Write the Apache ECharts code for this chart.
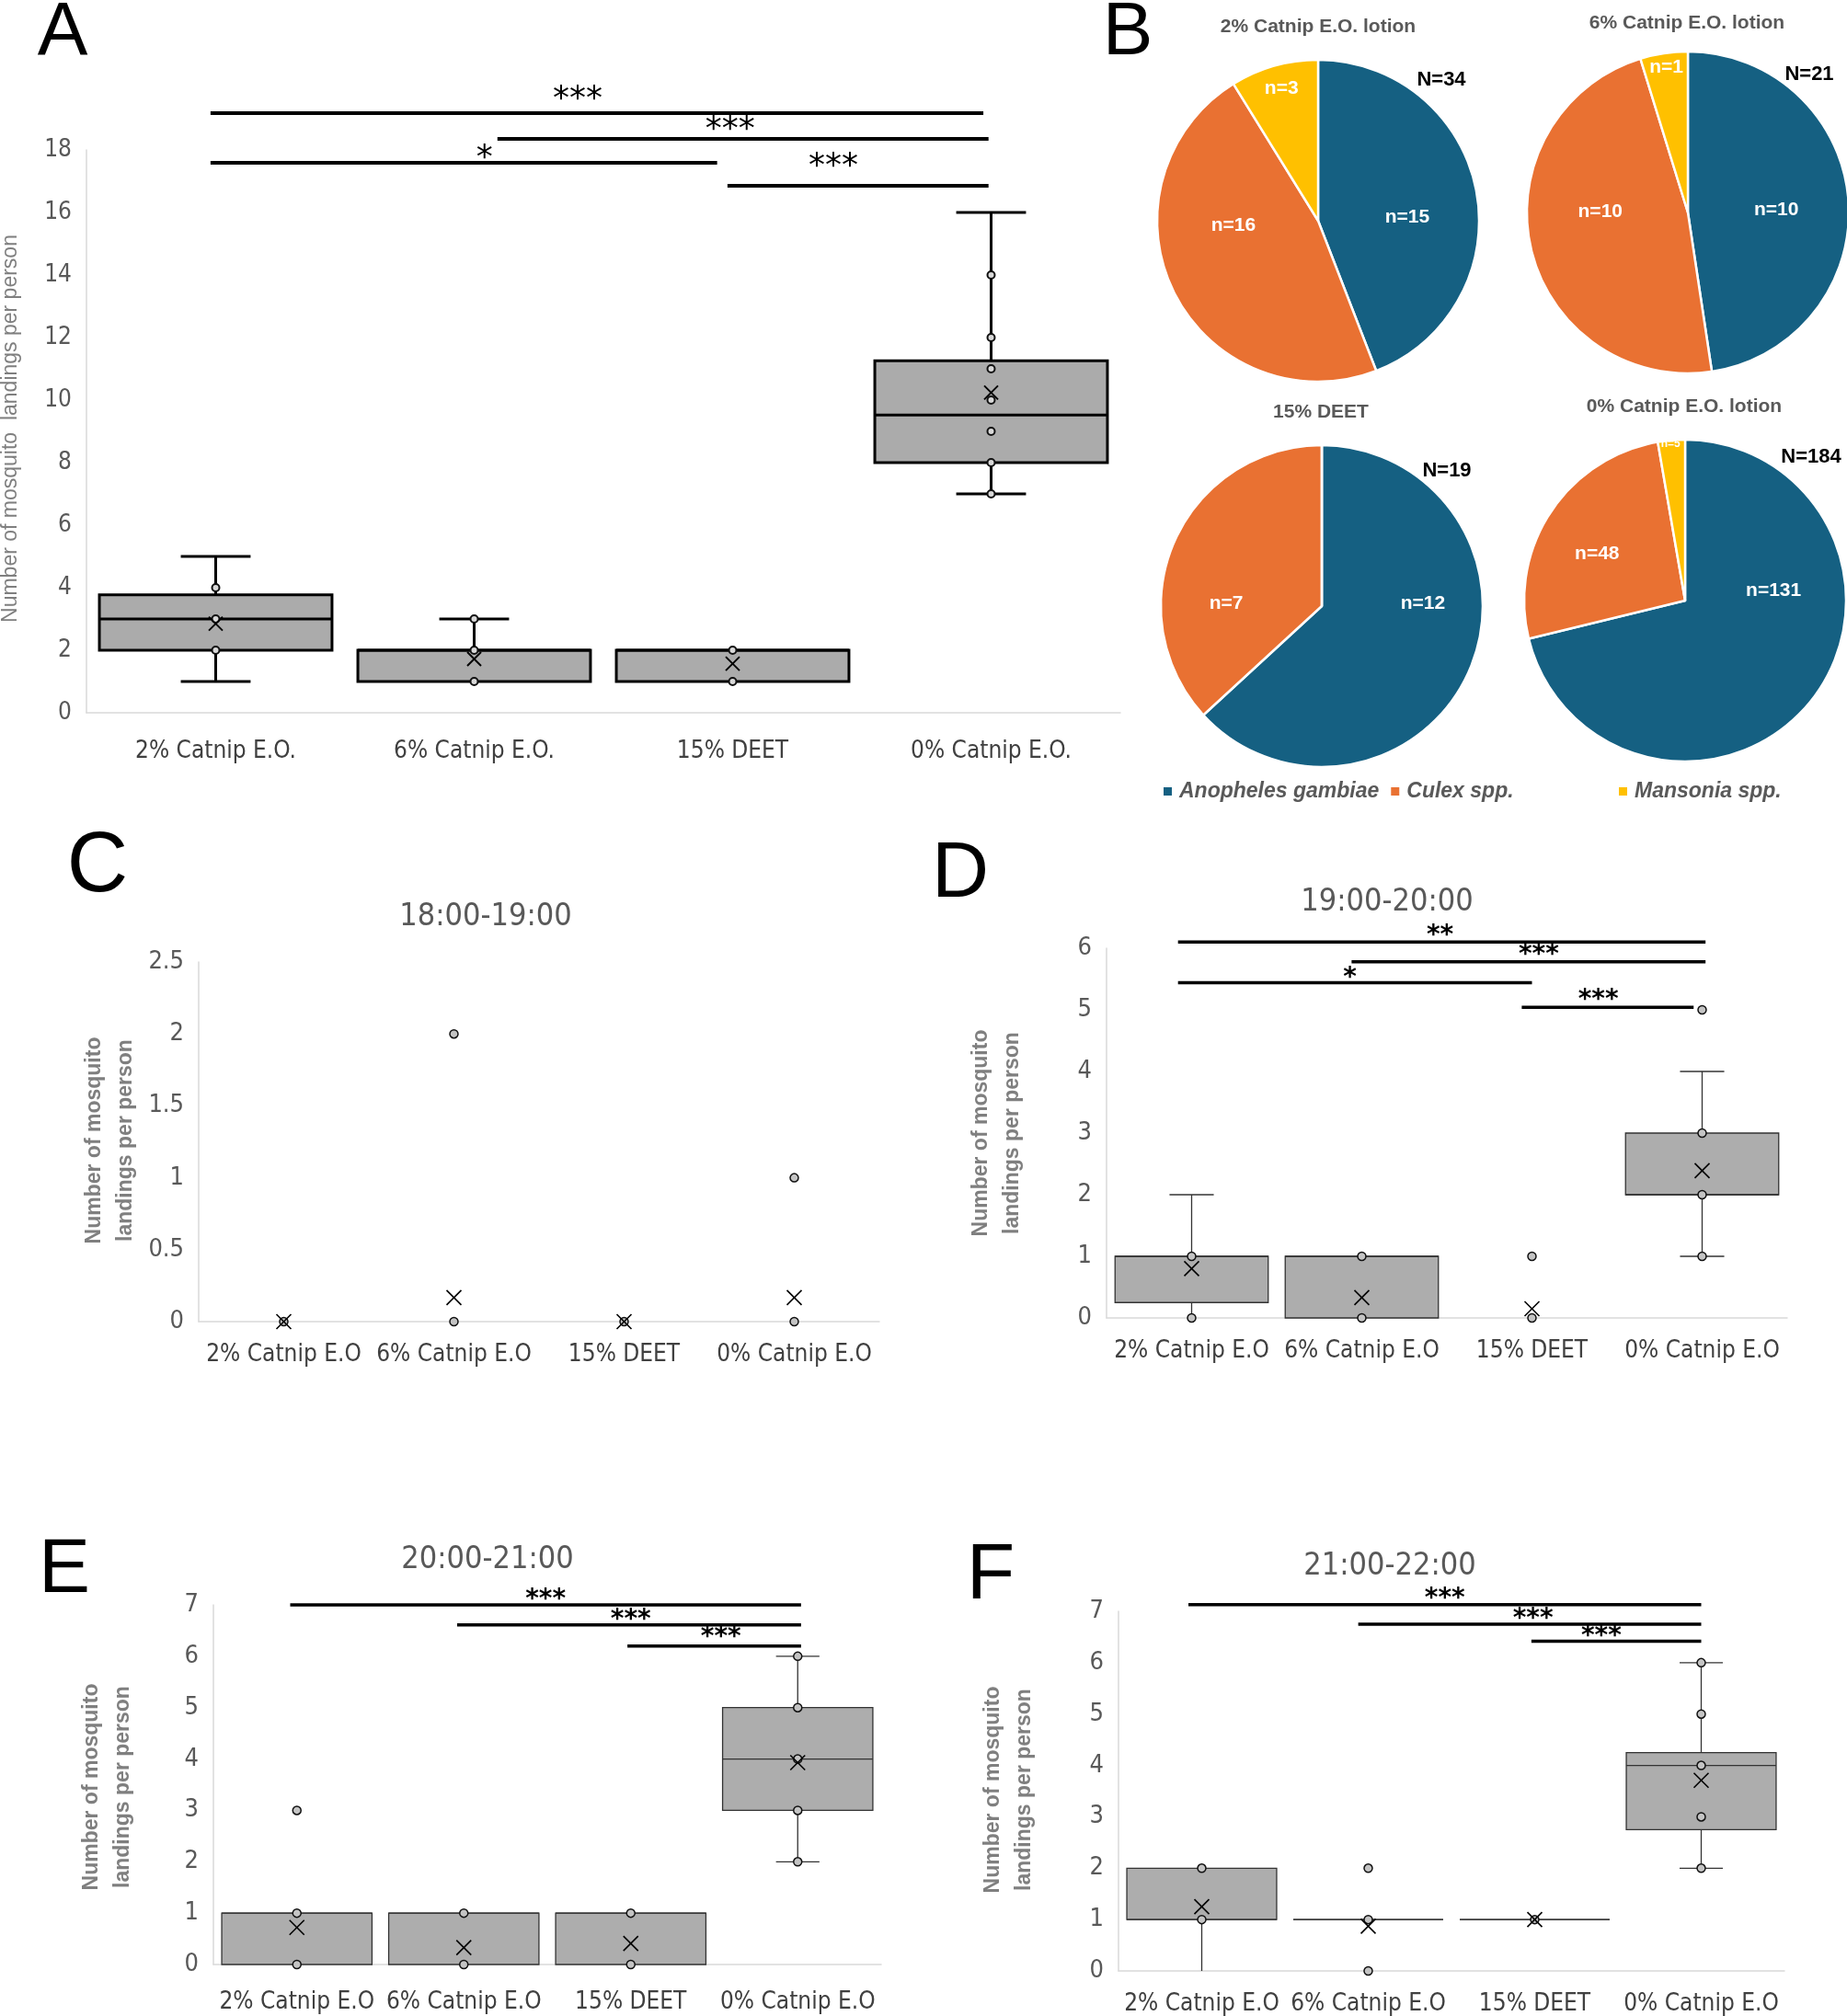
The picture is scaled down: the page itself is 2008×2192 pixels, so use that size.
<!DOCTYPE html>
<html>
<head>
<meta charset="utf-8">
<script src="https://cdn.jsdelivr.net/npm/echarts@6.0.0/dist/echarts.min.js"></script>
<style>
  html, body { margin: 0; padding: 0; background: #fff; }
  #chart { width: 2008px; height: 2192px; }
</style>
</head>
<body>
<div id="chart"></div>
<script>
// ---- data ----
const catsA = ['2% Catnip E.O.', '6% Catnip E.O.', '15% DEET', '0% Catnip E.O.'];
const catsHour = ['2% Catnip E.O', '6% Catnip E.O', '15% DEET', '0% Catnip E.O'];

// box stats per group: [lower whisker, Q1, median, Q3, upper whisker]
const boxA = [[1, 2, 3, 3.77, 5], [1, 1, 2, 2, 3], [1, 1, 2, 2, 2], [7, 8, 9.52, 11.26, 16]];
const meanA = [2.85, 1.72, 1.57, 10.24];
const pointsA = [[2, 3, 4], [1, 2, 3], [1, 2], [7, 8, 9, 10, 11, 12, 14]];
const sigSpanA = [[-0.02, 2.97, 19.18], [1.09, 2.99, 18.35], [-0.02, 1.94, 17.59], [1.98, 2.99, 16.85]];
const sigMarkA = ['***', '***', '*', '***'];
const sigMarkAtA = [[1.4, 19.82], [1.99, 18.85], [1.04, 17.94], [2.39, 17.68]];

const boxC = [null, null, null, null];
const meanC = [0, 0.167, 0, 0.167];
const pointsC = [[0], [0, 2], [0], [0, 1]];

const boxD = [[0, 0.25, 1, 1, 2], [0, 0, 1, 1, 1], null, [1, 2, 2, 3, 4]];
const meanD = [0.8, 0.33, 0.15, 2.39];
const pointsD = [[0, 1], [0, 1], [0, 1], [1, 2, 3, 5]];
const sigSpanD = [[-0.08, 3.02, 6.1], [0.94, 3.02, 5.78], [-0.08, 2.0, 5.44], [1.94, 2.95, 5.04]];
const sigMarkD = ['**', '***', '*', '***'];
const sigMarkAtD = [[1.46, 6.29], [2.04, 5.97], [0.93, 5.6], [2.39, 5.25]];

const boxE = [[0, 0, 1, 1, 1], [0, 0, 1, 1, 1], [0, 0, 1, 1, 1], [2, 3, 4, 5, 6]];
const meanE = [0.72, 0.33, 0.41, 3.93];
const pointsE = [[0, 1, 3], [0, 1], [0, 1], [2, 3, 4, 5, 6]];
const sigSpanE = [[-0.04, 3.02, 7.0], [0.96, 3.02, 6.61], [1.98, 3.02, 6.2]];
const sigMarkE = ['***', '***', '***'];
const sigMarkAtE = [[1.49, 7.21], [2.0, 6.81], [2.54, 6.47]];

const boxF = [[0, 1, 1, 2, 2], [1, 1, 1, 1, 1], [1, 1, 1, 1, 1], [2, 2.75, 4, 4.25, 6]];
const meanF = [1.25, 0.87, 1.0, 3.71];
const pointsF = [[1, 2], [0, 1, 2], [1], [2, 3, 4, 5, 6]];
const sigSpanF = [[-0.08, 3.0, 7.13], [0.94, 3.0, 6.75], [1.98, 3.0, 6.42]];
const sigMarkF = ['***', '***', '***'];
const sigMarkAtF = [[1.46, 7.35], [1.99, 6.95], [2.4, 6.61]];

const speciesNames = ['Anopheles gambiae', 'Culex spp.', 'Mansonia spp.'];
const pieTitles = ['2% Catnip E.O. lotion', '6% Catnip E.O. lotion', '15% DEET', '0% Catnip E.O. lotion'];
const pieCounts = [[15, 16, 3], [10, 10, 1], [12, 7, 0], [131, 48, 5]];

const hourTitles = ['18:00-19:00', '19:00-20:00', '20:00-21:00', '21:00-22:00'];

// ---- styling ----
const NARROW = '"Liberation Sans Narrow", "DejaVu Sans Condensed", "Roboto Condensed", sans-serif';
const SANS = '"Liberation Sans", Arial, sans-serif';
const GRAY = '#595959';
const speciesColors = ['#156082', '#e97132', '#ffc000'];

const grids = [], xAxes = [], yAxes = [], series = [];

function boxPanel(k, cfg) {
  grids.push(Object.assign({ containLabel: false, outerBoundsMode: 'none' }, cfg.grid));
  xAxes.push({
    type: 'category', gridIndex: k, data: cfg.cats,
    axisTick: { show: false },
    axisLine: { show: true, onZero: false, lineStyle: { color: '#d9d9d9', width: 1.5 } },
    axisLabel: { color: '#404040', fontFamily: NARROW, fontSize: cfg.catFont, margin: cfg.catMargin, interval: 0 },
    splitLine: { show: false }
  });
  xAxes.push({ type: 'value', gridIndex: k, min: -0.5, max: 3.5, show: false });
  yAxes.push({
    type: 'value', gridIndex: k, min: 0, max: cfg.yMax, interval: cfg.yStep,
    axisLine: { show: true, onZero: false, lineStyle: { color: '#d9d9d9', width: 1.5 } },
    axisTick: { show: false }, splitLine: { show: false },
    axisLabel: { color: GRAY, fontFamily: NARROW, fontSize: cfg.tickFont, margin: 16 }
  });
  const xi = 2 * k + 1, yi = k;

  const boxData = [];
  cfg.boxes.forEach((b, i) => { if (b) boxData.push([i].concat(b)); });
  series.push({
    type: 'custom', xAxisIndex: xi, yAxisIndex: yi, clip: false, z: 2, silent: true,
    data: boxData,
    renderItem: function (params, api) {
      const x = api.value(0), lo = api.value(1), q1 = api.value(2), med = api.value(3), q3 = api.value(4), hi = api.value(5);
      const half = api.size([cfg.boxWidth, 0])[0] / 2;
      const capHalf = api.size([cfg.capWidth, 0])[0] / 2;
      const p1 = api.coord([x, q1]);
      const cx = p1[0];
      const yLo = api.coord([x, lo])[1], yQ1 = p1[1], yMed = api.coord([x, med])[1];
      const yQ3 = api.coord([x, q3])[1], yHi = api.coord([x, hi])[1];
      const ls = { stroke: cfg.stroke, lineWidth: cfg.lw };
      const kids = [];
      if (hi > q3) {
        kids.push({ type: 'line', shape: { x1: cx, y1: yQ3, x2: cx, y2: yHi }, style: ls });
        kids.push({ type: 'line', shape: { x1: cx - capHalf, y1: yHi, x2: cx + capHalf, y2: yHi }, style: ls });
      }
      if (lo < q1) {
        kids.push({ type: 'line', shape: { x1: cx, y1: yQ1, x2: cx, y2: yLo }, style: ls });
        if (lo > 0) kids.push({ type: 'line', shape: { x1: cx - capHalf, y1: yLo, x2: cx + capHalf, y2: yLo }, style: ls });
      }
      kids.push({ type: 'rect', shape: { x: cx - half, y: yQ3, width: half * 2, height: yQ1 - yQ3 },
        style: { fill: cfg.fill, stroke: cfg.stroke, lineWidth: cfg.lw } });
      kids.push({ type: 'line', shape: { x1: cx - half, y1: yMed, x2: cx + half, y2: yMed }, style: ls });
      return { type: 'group', children: kids };
    }
  });

  const pts = [];
  cfg.points.forEach((arr, i) => arr.forEach(v => pts.push([i, v])));
  series.push({
    type: 'scatter', xAxisIndex: xi, yAxisIndex: yi, clip: false, z: 3, silent: true,
    symbol: 'circle', symbolSize: cfg.ptSize, data: pts,
    itemStyle: { color: cfg.ptFill, borderColor: '#111', borderWidth: cfg.ptLw, opacity: 1 }
  });

  series.push({
    type: 'custom', xAxisIndex: xi, yAxisIndex: yi, clip: false, z: 4, silent: true,
    data: cfg.means.map((m, i) => [i, m]),
    renderItem: function (params, api) {
      const p = api.coord([api.value(0), api.value(1)]);
      const h = cfg.meanSize / 2;
      const st = { stroke: '#000', lineWidth: cfg.meanLw };
      return { type: 'group', children: [
        { type: 'line', shape: { x1: p[0] - h, y1: p[1] - h, x2: p[0] + h, y2: p[1] + h }, style: st },
        { type: 'line', shape: { x1: p[0] + h, y1: p[1] - h, x2: p[0] - h, y2: p[1] + h }, style: st }
      ] };
    }
  });

  if (cfg.sigSpan) {
    series.push({
      type: 'custom', xAxisIndex: xi, yAxisIndex: yi, clip: false, z: 5, silent: true,
      data: cfg.sigSpan.map((s, i) => s.concat(cfg.sigAt[i])),
      renderItem: function (params, api) {
        const a = api.coord([api.value(0), api.value(2)]);
        const b = api.coord([api.value(1), api.value(2)]);
        const t = api.coord([api.value(3), api.value(4)]);
        return { type: 'group', children: [
          { type: 'line', shape: { x1: a[0], y1: a[1], x2: b[0], y2: b[1] }, style: { stroke: '#000', lineWidth: cfg.sigLw } },
          { type: 'text', x: t[0], y: t[1] + cfg.sigFont * 0.22,
            style: { text: cfg.sigMark[params.dataIndex], fontFamily: '"DejaVu Sans", sans-serif', fontSize: cfg.sigFont,
              fontWeight: cfg.sigBold ? 'bold' : 'normal', fill: '#000', align: 'center', verticalAlign: 'middle' } }
        ] };
      }
    });
  }
}

const thick = { lw: 3, stroke: '#000', fill: '#ababab', boxWidth: 0.9, capWidth: 0.27, ptSize: 8, ptLw: 2, ptFill: '#d9d9d9', meanSize: 15, meanLw: 2, sigLw: 4, sigFont: 36, sigBold: false };
const thin = { lw: 1.3, stroke: '#333', fill: '#adadad', boxWidth: 0.9, capWidth: 0.26, ptSize: 9, ptLw: 1.5, ptFill: '#c4c4c4', meanSize: 16, meanLw: 1.6, sigLw: 3.5, sigFont: 28, sigBold: true };

boxPanel(0, Object.assign({}, thick, {
  grid: { left: 94, top: 163, width: 1124, height: 612 }, cats: catsA, catFont: 26, catMargin: 29, tickFont: 26,
  yMax: 18, yStep: 2, boxes: boxA, means: meanA, points: pointsA, sigSpan: sigSpanA, sigMark: sigMarkA, sigAt: sigMarkAtA
}));
boxPanel(1, Object.assign({}, thin, {
  grid: { left: 216, top: 1046, width: 740, height: 391 }, cats: catsHour, catFont: 26, catMargin: 23, tickFont: 27,
  yMax: 2.5, yStep: 0.5, boxes: boxC, means: meanC, points: pointsC
}));
boxPanel(2, Object.assign({}, thin, {
  grid: { left: 1203, top: 1031, width: 740, height: 402 }, cats: catsHour, catFont: 26, catMargin: 23, tickFont: 27,
  yMax: 6, yStep: 1, boxes: boxD, means: meanD, points: pointsD, sigSpan: sigSpanD, sigMark: sigMarkD, sigAt: sigMarkAtD
}));
boxPanel(3, Object.assign({}, thin, {
  grid: { left: 232, top: 1745, width: 726, height: 391 }, cats: catsHour, catFont: 26, catMargin: 28, tickFont: 27,
  yMax: 7, yStep: 1, boxes: boxE, means: meanE, points: pointsE, sigSpan: sigSpanE, sigMark: sigMarkE, sigAt: sigMarkAtE
}));
boxPanel(4, Object.assign({}, thin, {
  grid: { left: 1216, top: 1752, width: 724, height: 391 }, cats: catsHour, catFont: 26, catMargin: 23, tickFont: 27,
  yMax: 7, yStep: 1, boxes: boxF, means: meanF, points: pointsF, sigSpan: sigSpanF, sigMark: sigMarkF, sigAt: sigMarkAtF
}));

// ---- pies (panel B) ----
const pieCenters = [[1433, 240], [1835, 231], [1437, 659], [1832, 653]];
const pieTitleAt = [[1433, 29], [1834, 25], [1436, 448], [1831, 442]];
const pieTotalAt = [[1567, 87], [1967, 81], [1573, 512], [1969, 497]];
const pieLabelNudge = [
  [[8, 13], [-11, -35], [-15, -57]],
  [[6, 4], [-7, -21], [-10, -68]],
  [[27, -39], [-21, 34], [0, 0]],
  [[25, -67], [-20, -1], [-8, -80]]
];
pieCounts.forEach((counts, k) => {
  series.push({
    type: 'pie', center: pieCenters[k], radius: 175, startAngle: 90, clockwise: true,
    silent: true, emphasis: { disabled: true },
    itemStyle: { borderColor: '#fff', borderWidth: 2.5 },
    labelLine: { show: false },
    labelLayout: function (p) {
      const n = pieLabelNudge[k][p.dataIndex];
      return { dx: n[0], dy: n[1] };
    },
    data: counts.map((v, i) => ({
      name: speciesNames[i], value: v,
      itemStyle: { color: speciesColors[i] },
      label: {
        show: v > 0, position: 'inside', formatter: 'n={c}', color: '#fff', fontWeight: 'bold',
        fontFamily: SANS, fontSize: (k === 3 && i === 2) ? 12 : 21
      }
    }))
  });
});

// ---- free text ----
const graphic = [];
function txt(x, y, text, st, rot) {
  graphic.push({ type: 'text', x: x, y: y, rotation: rot || 0, silent: true,
    style: Object.assign({ text: text, align: 'center', verticalAlign: 'middle' }, st) });
}
[['A', 68, 36, 82], ['B', 1226, 36, 82], ['C', 106, 944, 92], ['D', 1044, 951, 86], ['E', 70, 1708, 84], ['F', 1077, 1714, 86]]
  .forEach(l => txt(l[1], l[2], l[0], { fontFamily: SANS, fontSize: l[3], fill: '#000' }));

pieTitles.forEach((t, k) => txt(pieTitleAt[k][0], pieTitleAt[k][1], t,
  { fontFamily: SANS, fontSize: 21, fontWeight: 'bold', fill: GRAY }));
pieCounts.forEach((c, k) => txt(pieTotalAt[k][0], pieTotalAt[k][1], 'N=' + c.reduce((a, b) => a + b, 0),
  { fontFamily: SANS, fontSize: 22, fontWeight: 'bold', fill: '#000' }));

[[528, 997], [1508, 981], [530, 1696], [1511, 1703]].forEach((p, k) =>
  txt(p[0], p[1], hourTitles[k], { fontFamily: NARROW, fontSize: 34, fill: GRAY }));

txt(12, 466, 'Number of mosquito  landings per person', { fontFamily: SANS, fontSize: 23, fill: '#7f7f7f' }, Math.PI / 2);
[[120, 1240], [1084, 1232], [117, 1943], [1097, 1946]].forEach(p =>
  txt(p[0], p[1], 'Number of mosquito\nlandings per person',
    { fontFamily: SANS, fontSize: 23, fontWeight: 'bold', fill: '#7f7f7f', lineHeight: 34 }, Math.PI / 2));

const legendStyle = {
  icon: 'rect', itemWidth: 11, itemHeight: 11, itemGap: 11, padding: 0, selectedMode: false,
  textStyle: { fontFamily: SANS, fontSize: 23, fontWeight: 'bold', fontStyle: 'italic', color: GRAY, padding: [0, 0, 0, 2] }
};

const chart = echarts.init(document.getElementById('chart'), null, { renderer: 'canvas' });
chart.setOption({
  backgroundColor: '#fff',
  animation: false,
  color: speciesColors,
  grid: grids,
  xAxis: xAxes,
  yAxis: yAxes,
  legend: [
    Object.assign({ left: 1263, top: 849, data: speciesNames.slice(0, 2) }, legendStyle),
    Object.assign({ left: 1758, top: 849, data: speciesNames.slice(2) }, legendStyle)
  ],
  graphic: graphic,
  series: series
});
</script>
</body>
</html>
